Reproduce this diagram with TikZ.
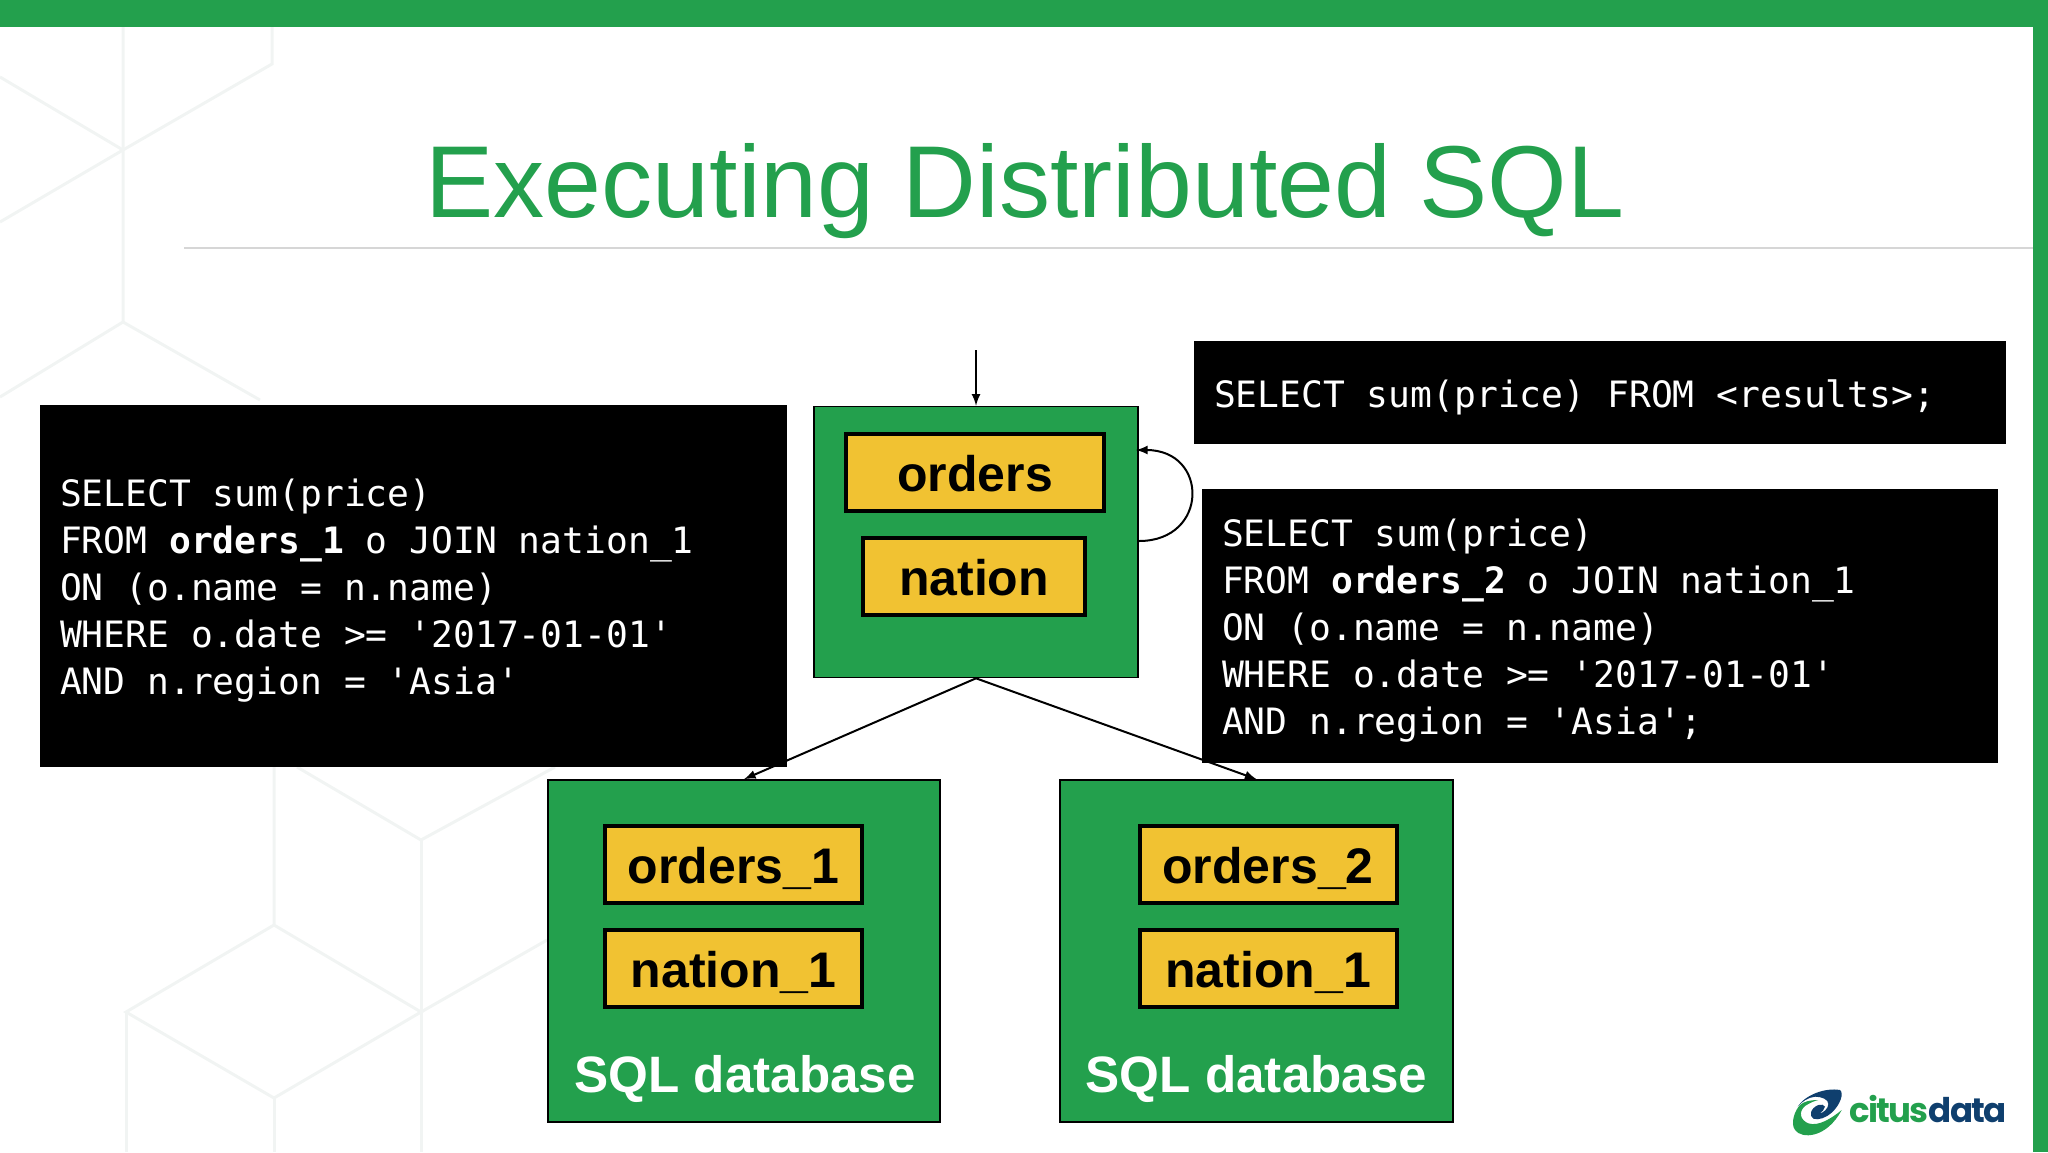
\documentclass[tikz,border=0pt]{standalone}
\usepackage{fontspec}
\setmainfont{Liberation Sans}
\newfontfamily\codefont{DejaVu Sans Mono}
\newfontfamily\logofont[LetterSpace=-5]{Poppins}
\definecolor{citusgreen}{HTML}{23A04D}
\definecolor{citusnavy}{HTML}{0F3F6E}
\definecolor{tableyellow}{HTML}{F1C232}
\definecolor{hexgrey}{HTML}{F1F4F3}
\newcommand{\sqlstrut}{\rule{0pt}{18.7pt}}
\tikzset{
  dbbox/.style={draw=black, line width=0.8pt, fill=citusgreen, inner sep=0pt},
  tablebox/.style={draw=black, line width=2pt, fill=tableyellow, inner sep=0pt,
    minimum height=38.5pt, text height=18.8pt, text depth=0pt,
    font=\fontsize{25}{30}\selectfont\bfseries},
  sqlbox/.style={fill=black, text=white, inner xsep=10pt, inner ysep=0pt, align=flush left,
    font=\fontsize{18.15}{23.5}\selectfont\codefont},
  dblabel/.style={text=white, inner sep=0pt, font=\fontsize{25.6}{30}\selectfont\bfseries},
  hexline/.style={draw=hexgrey, line width=1.5pt},
}
\begin{document}
\begin{tikzpicture}[x=0.5pt,y=-0.5pt]
        \useasboundingbox (0,0) rectangle (2048,1152);
        % backdrop
        \draw[hexline] (123,27) -- (123,322) -- (0,397);
        \draw[hexline] (123,322) -- (260,400);
        \draw[hexline] (272,27) -- (272,64) -- (123,150) -- (0,77);
        \draw[hexline] (123,150) -- (0,222);
        \draw[hexline] (274,767) -- (274,925) -- (126,1012) -- (274,1098) -- (421,1012) -- (274,925);
        \draw[hexline] (297,767) -- (421,840) -- (555,767);
        \draw[hexline] (421,840) -- (421,1152);
        \draw[hexline] (421,1012) -- (547,940);
        \draw[hexline] (126,1012) -- (126,1152);
        \draw[hexline] (274,1098) -- (274,1152);
        \fill[citusgreen] (0,0) rectangle (2048,27);
        \fill[citusgreen] (2033,0) rectangle (2048,1152);
        \draw[draw=black!16, line width=1pt] (184,248) -- (2033,248);
        \node[text=citusgreen, inner sep=0pt, font=\fontsize{51.1}{60}\selectfont] (title) at (1025,191) {Executing Distributed SQL};
        % sql text
        \node[sqlbox, minimum width=373.5pt, minimum height=181pt, text width=353.5pt] (sqlleft) at (413.5,586) {\sqlstrut SELECT sum(price)\\FROM {\bfseries orders\_1} o JOIN nation\_1\\ON (o.name = n.name)\\WHERE o.date >= '2017-01-01'\\AND n.region = 'Asia'};
        \node[sqlbox, minimum width=398pt, minimum height=137pt, text width=378pt] (sqlright) at (1600,626) {\sqlstrut SELECT sum(price)\\FROM {\bfseries orders\_2} o JOIN nation\_1\\ON (o.name = n.name)\\WHERE o.date >= '2017-01-01'\\AND n.region = 'Asia';};
        \node[sqlbox, minimum width=406pt, minimum height=51.5pt, text width=386pt] (sqltop) at (1600,392.5) {\sqlstrut SELECT sum(price) FROM <results>;};
        % coordinator
        \node[dbbox, minimum width=162pt, minimum height=135.5pt] (dbmain) at (976,542) {};
        \node[tablebox, minimum width=129pt] (orders) at (975,472.5) {orders};
        \node[tablebox, minimum width=111pt] (nation) at (974,576.5) {nation};
        % workers
        \node[dbbox, minimum width=196pt, minimum height=171pt] (dbleft) at (744,951) {};
        \node[tablebox, minimum width=128.5pt] (ordersleft) at (733.5,864.5) {orders\_1};
        \node[tablebox, minimum width=128.5pt] (nationleft) at (733.5,968.5) {nation\_1};
        \node[dblabel] (labelleft) at (745,1079) {SQL database};
        \node[dbbox, minimum width=196.5pt, minimum height=171pt] (dbright) at (1256.5,951) {};
        \node[tablebox, minimum width=128.5pt] (ordersright) at (1268,864.5) {orders\_2};
        \node[tablebox, minimum width=128.5pt] (nationright) at (1268,968.5) {nation\_1};
        \node[dblabel] (labelright) at (1256.5,1079) {SQL database};
        % connectors
        \coordinate (entry) at (976,350);
        \coordinate (loopout) at (1139,541);
        \coordinate (loopin) at (1136,450);
        \draw[-latex, line width=1pt] (entry) -- (dbmain.north);
        \draw[-latex, line width=1pt] (loopout) .. controls (1209,541) and (1209,450) .. (loopin);
        \draw[-latex, line width=1pt] (dbmain.south) -- (dbleft.north);
        \draw[-latex, line width=1pt] (dbmain.south) -- (dbright.north);
        % logo
        \begin{scope}[shift={(1785,1080)},scale=1/3]
        \fill[citusnavy] (38,80) .. controls (60,45) and (120,22) .. (165,30) .. controls (178,40) and (165,75) .. (140,98) .. controls (125,112) and (100,122) .. (85,116) .. controls (72,108) and (75,85) .. (100,75) .. controls (108,72) and (118,74) .. (120,80) .. controls (118,90) and (112,95) .. (102,100) .. controls (115,100) and (130,85) .. (130,72) .. controls (130,58) and (110,50) .. (90,50) .. controls (70,52) and (50,65) .. (38,80) -- cycle;
        \fill[citusgreen] (45,75) .. controls (30,90) and (15,130) .. (30,150) .. controls (50,178) and (125,175) .. (170,90) .. controls (140,115) and (100,140) .. (70,130) .. controls (45,120) and (40,95) .. (60,78) .. controls (75,68) and (90,62) .. (100,60) .. controls (75,60) and (55,65) .. (45,75) -- cycle;
        \end{scope}
        \node[inner sep=0pt, anchor=west, font=\fontsize{17}{20}\selectfont\logofont\bfseries] (logo) at (1849,1109) {\textcolor{citusgreen}{citus}\textcolor{citusnavy}{data}};
\end{tikzpicture}
\end{document}
